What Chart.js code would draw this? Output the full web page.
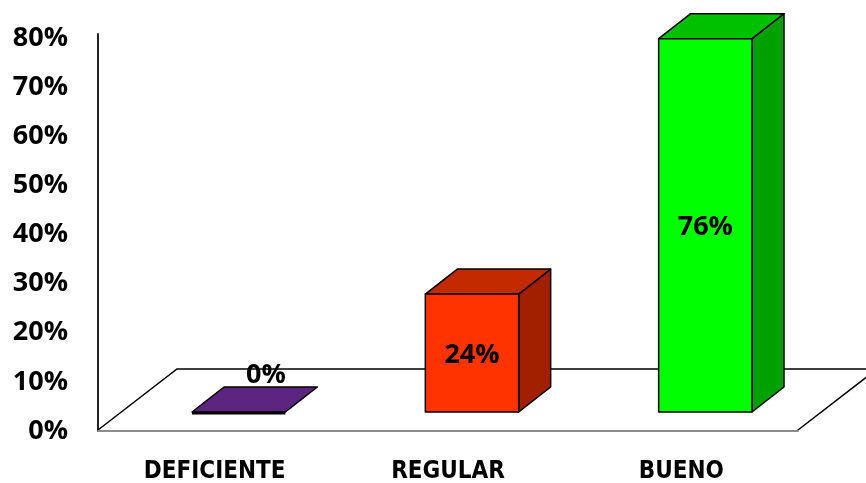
<!DOCTYPE html>
<html>
<head>
<meta charset="utf-8">
<script src="https://cdn.jsdelivr.net/npm/chart.js@4/dist/chart.umd.min.js"></script>
<style>
  html, body { margin: 0; padding: 0; background: #fff; }
  #wrap { width: 866px; height: 483px; }
</style>
</head>
<body>
<div id="wrap"><canvas id="chart" width="866" height="483"></canvas></div>
<script>
let categories = ['DEFICIENTE', 'REGULAR', 'BUENO'];
let values = [0, 24, 76];
let yTickMin = 0;
let yTickMax = 80;
let yTickStep = 10;

// face colours: front, top, side
let frontColors = ['#5B2580', '#FF3300', '#00FF00'];
let topColors = ['#5B2580', '#C42A00', '#00C000'];
let sideColors = ['#3E1960', '#A02000', '#00A000'];

// 3d look
let barShift = { x: 24, y: -19 };   // bars sit a bit into the floor
let barDepth = { x: 32, y: -25 };
let floorDepth = { x: 79, y: -61 };

function poly(ctx, pts, fill, stroke, lw) {
    ctx.beginPath();
    ctx.moveTo(pts[0][0], pts[0][1]);
    for (let i = 1; i < pts.length; i++) ctx.lineTo(pts[i][0], pts[i][1]);
    ctx.closePath();
    if (fill) { ctx.fillStyle = fill; ctx.fill(); }
    if (stroke) { ctx.strokeStyle = stroke; ctx.lineWidth = lw || 1.5; ctx.lineJoin = 'round'; ctx.stroke(); }
}

let floorPlugin = {
    id: 'floor',
    beforeDatasetsDraw(chart) {
        let ctx = chart.ctx;
        let area = chart.chartArea;
        let y0 = chart.scales.y.getPixelForValue(0) - 1;
        let l = area.left, r = area.right;
        ctx.save();
        ctx.lineCap = 'round';
        // axis line a bit above the top tick
        ctx.beginPath();
        ctx.moveTo(l, area.top);
        ctx.lineTo(l, area.top - 4);
        ctx.strokeStyle = '#222';
        ctx.lineWidth = 2;
        ctx.stroke();
        // back edge + side slants
        ctx.beginPath();
        ctx.moveTo(l, y0);
        ctx.lineTo(l + floorDepth.x, y0 + floorDepth.y);
        ctx.lineTo(r + floorDepth.x, y0 + floorDepth.y);
        ctx.lineTo(r, y0);
        ctx.strokeStyle = '#000';
        ctx.lineWidth = 1.5;
        ctx.stroke();
        // front edge
        ctx.beginPath();
        ctx.moveTo(l, y0 + 1);
        ctx.lineTo(r, y0 + 1);
        ctx.strokeStyle = '#8c8c8c';
        ctx.lineWidth = 2;
        ctx.stroke();
        ctx.restore();
    }
};

let bar3dPlugin = {
    id: 'bar3d',
    afterDatasetsDraw(chart) {
        let ctx = chart.ctx;
        let meta = chart.getDatasetMeta(0);
        ctx.save();
        meta.data.forEach((el, i) => {
            let p = el.getProps(['x', 'y', 'base', 'width'], true);
            let l = p.x - p.width / 2 + barShift.x;
            let r = p.x + p.width / 2 + barShift.x;
            let t = p.y + barShift.y;
            let b = p.base + barShift.y;
            let dx = barDepth.x, dy = barDepth.y;
            if (b - t > 1) {
                // side
                poly(ctx, [[r, t], [r + dx, t + dy], [r + dx, b + dy], [r, b]], sideColors[i], '#000', 1.5);
                // top
                poly(ctx, [[l, t], [l + dx, t + dy], [r + dx, t + dy], [r, t]], topColors[i], '#000', 1.5);
                // front
                poly(ctx, [[l, t], [r, t], [r, b], [l, b]], frontColors[i], '#000', 1.5);
            } else {
                poly(ctx, [[l, b], [l + dx, b + dy], [r + dx, b + dy], [r, b]], topColors[i], '#000', 1.5);
                ctx.beginPath();
                ctx.moveTo(l, b + 1);
                ctx.lineTo(r, b + 1);
                ctx.strokeStyle = '#000';
                ctx.lineWidth = 3;
                ctx.stroke();
            }
            // value label
            ctx.font = 'bold 27px "Open Sans"';
            ctx.fillStyle = '#000';
            ctx.textAlign = 'center';
            ctx.textBaseline = 'middle';
            let txt = values[i] + '%';
            if (b - t > 30) {
                ctx.fillText(txt, (l + r) / 2, (t + b) / 2 + 2);
            } else {
                ctx.fillText(txt, (l + r) / 2 + dx * 0.85, b + dy - 12);
            }
        });
        ctx.restore();
    }
};

let ctx = document.getElementById('chart').getContext('2d');
let chart = new Chart(ctx, {
    type: 'bar',
    data: {
        labels: categories,
        datasets: [{
            data: values,
            backgroundColor: 'rgba(0,0,0,0)',
            borderWidth: 0,
            barPercentage: 0.4,
            categoryPercentage: 1
        }]
    },
    options: {
        responsive: false,
        animation: false,
        events: [],
        layout: { padding: { top: 38, right: 68, left: 0, bottom: 0 } },
        plugins: {
            legend: { display: false },
            tooltip: { enabled: false }
        },
        scales: {
            x: {
                grid: { display: false, drawTicks: false },
                border: { display: false },
                ticks: {
                    color: '#000',
                    padding: 26,
                    font: { family: 'DejaVu Sans Condensed', weight: 'bold', size: 24 }
                },
                afterFit(scale) {
                    scale.height = 52;
                    scale.paddingLeft = 0;
                    scale.paddingRight = 0;
                }
            },
            y: {
                min: yTickMin,
                max: yTickMax,
                grid: { display: false, drawTicks: false },
                border: { display: true, color: '#222', width: 2 },
                ticks: {
                    stepSize: yTickStep,
                    color: '#000',
                    padding: 30,
                    font: { family: 'Open Sans', weight: 'bold', size: 27 },
                    callback: (v) => v + '%'
                },
                afterFit(scale) {
                    scale.width = 98;
                    scale.paddingTop = 0;
                    scale.paddingBottom = 0;
                }
            }
        }
    },
    plugins: [floorPlugin, bar3dPlugin]
});
</script>
</body>
</html>
